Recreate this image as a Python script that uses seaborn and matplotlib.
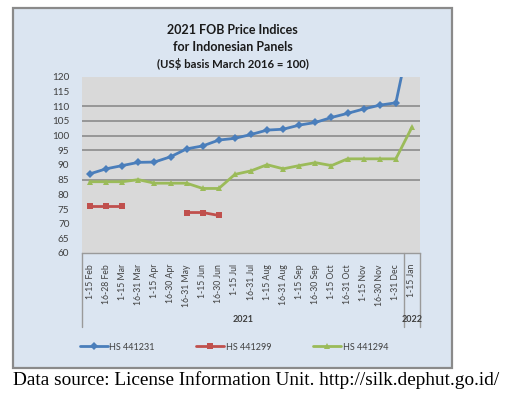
import numpy as np
import pandas as pd
import matplotlib
matplotlib.use("Agg")
import matplotlib.pyplot as plt
import matplotlib.transforms as mtrans
from matplotlib.patches import Rectangle
from matplotlib.lines import Line2D
import seaborn as sns

categories = ["1-15 Feb", "16-28 Feb", "1-15 Mar", "16-31 Mar", "1-15 Apr", "16-30 Apr",
              "16-31 May", "1-15 Jun", "16-30 Jun", "1-15 Jul", "16-31 Jul", "1-15 Aug",
              "16-31 Aug", "1-15 Sep", "16-30 Sep", "1-15 Oct", "16-31 Oct", "1-15 Nov",
              "16-30 Nov", "1-31 Dec", "1-15 Jan"]
hs441231 = [87.0, 88.7, 89.8, 90.9, 91.0, 92.8, 95.5, 96.5, 98.5, 99.1, 100.4, 101.9,
            102.2, 103.6, 104.5, 106.2, 107.6, 109.1, 110.4, 111.2, 137.0]
hs441299 = [75.9, 75.9, 75.9, np.nan, np.nan, np.nan, 73.8, 73.8, 72.8, np.nan, np.nan,
            np.nan, np.nan, np.nan, np.nan, np.nan, np.nan, np.nan, np.nan, np.nan, np.nan]
hs441294 = [84.3, 84.3, 84.3, 85.0, 83.8, 83.8, 83.8, 82.0, 82.0, 86.8, 88.0, 90.1,
            88.7, 89.8, 90.8, 89.8, 92.1, 92.1, 92.1, 92.1, 102.9]
series_names = ["HS 441231", "HS 441299", "HS 441294"]
year_labels = ["2021", "2022"]
y_ticks = list(range(60, 121, 5))
grid_vals = [85, 95, 100, 105, 110]

rows = []
for name, vals in zip(series_names, [hs441231, hs441299, hs441294]):
    seg = 0
    prev_nan = True
    for i, v in enumerate(vals):
        if np.isnan(v):
            prev_nan = True
            continue
        if prev_nan:
            seg += 1
            prev_nan = False
        rows.append({"x": i, "value": v, "series": name, "seg": f"{name}-{seg}"})
df = pd.DataFrame(rows)

sns.set_style("white")
plt.rcParams["font.family"] = ["Lato", "DejaVu Sans"]

W, H = 514, 397
fig = plt.figure(figsize=(W / 100, H / 100), dpi=100)
fig.patch.set_facecolor("white")

# chart area box
fig.patches.append(Rectangle((13 / W, 1 - 368 / H), (452 - 13) / W, (368 - 8) / H,
                             transform=fig.transFigure, facecolor="#dbe5f1",
                             edgecolor="#8a8a8a", linewidth=1.6, zorder=-5))

ax = fig.add_axes([82 / W, 1 - 253 / H, (420 - 82) / W, (253 - 77) / H])
ax.set_zorder(2)
ax.set_facecolor("#d9d9d9")

for g in grid_vals:
    ax.axhline(g, color="#8c8c8c", lw=1.2, zorder=1)

palette = {"HS 441231": "#4a7ebb", "HS 441299": "#c0504d", "HS 441294": "#9bbb59"}
markers = {"HS 441231": "D", "HS 441299": "s", "HS 441294": "^"}
sns.lineplot(data=df, x="x", y="value", hue="series", style="series", units="seg",
             estimator=None, palette=palette, markers=markers, dashes=False,
             linewidth=2.0, markersize=4, markeredgewidth=0, ax=ax, legend=False,
             zorder=3)

ax.set_xlim(-0.5, len(categories) - 0.5)
ax.set_ylim(60, 120)
ax.set_yticks(y_ticks)
ax.set_yticklabels([str(t) for t in y_ticks], fontsize=7.2, color="#404040")
ax.set_xticks(range(len(categories)))
ax.set_xticklabels(categories, rotation=90, fontsize=6.2, color="#404040")
ax.tick_params(axis="both", length=0)
ax.tick_params(axis="y", pad=9)
ax.tick_params(axis="x", pad=8)
ax.set_xlabel("")
ax.set_ylabel("")
for s in ["top", "right", "left"]:
    ax.spines[s].set_visible(False)
ax.spines["bottom"].set_color("#9a9a9a")
ax.spines["bottom"].set_linewidth(1.0)

# multi-level category axis
trans = mtrans.blended_transform_factory(ax.transData, ax.transAxes)
ybot = -(327 - 253) / (253 - 77)
for xv in [-0.5, len(categories) - 1.5, len(categories) - 0.5]:
    ax.add_line(Line2D([xv, xv], [0, ybot], transform=trans, color="#9a9a9a",
                       lw=1.0, clip_on=False))
ylab = -(319 - 253) / (253 - 77)
ax.text((len(categories) - 2) / 2, ylab, year_labels[0], transform=trans, ha="center",
        va="center", fontsize=6.5, color="#404040", fontweight="bold")
ax.text(len(categories) - 1, ylab, year_labels[1], transform=trans, ha="center",
        va="center", fontsize=6.5, color="#404040", fontweight="bold")

# titles
cx = 232.5 / W
fig.text(cx, 1 - 30 / H, "2021 FOB Price Indices", ha="center", va="center",
         fontsize=9, fontweight="bold", color="#1a1a1a")
fig.text(cx, 1 - 47 / H, "for Indonesian Panels", ha="center", va="center",
         fontsize=9, fontweight="bold", color="#1a1a1a")
fig.text(cx, 1 - 64 / H, "(US$ basis March 2016 = 100)", ha="center", va="center",
         fontsize=8.2, fontweight="bold", color="#1a1a1a")

# legend
handles = [Line2D([], [], color=palette[n], marker=markers[n], lw=2.0, markersize=4,
                  markeredgewidth=0) for n in series_names]
fig.legend(handles, series_names, loc="center", bbox_to_anchor=(234 / W, 1 - 347 / H),
           ncol=3, frameon=False, fontsize=6.5, handlelength=3.1, handletextpad=0.2,
           columnspacing=4.6, labelcolor="#404040")

fig.text(13 / W, 1 - 380 / H, "Data source: License Information Unit. http://silk.dephut.go.id/",
         ha="left", va="center", fontsize=13.9, family=["Liberation Serif", "DejaVu Serif"],
         color="black")

fig.savefig("out.png", dpi=100)
